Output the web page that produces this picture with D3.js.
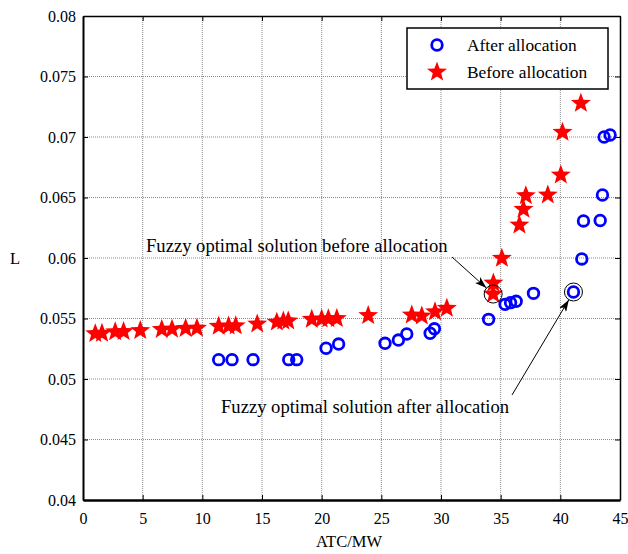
<!DOCTYPE html>
<html>
<head>
<meta charset="utf-8">
<script src="https://cdn.jsdelivr.net/npm/d3@7"></script>
<style>
  html, body { margin: 0; padding: 0; background: #fff; }
  svg { display: block; }
  text { font-family: "Liberation Serif", "Times New Roman", serif; fill: #000; }
</style>
</head>
<body>
<svg id="chart" width="628" height="554"></svg>
<script>
// ATC (MW) vs. loss index L, before and after allocation
const afterATC = [11.37, 12.49, 14.25, 17.24, 17.91, 20.37, 21.42, 25.31, 26.43, 27.13, 29.09, 29.45,
                  33.99, 35.37, 35.83, 36.30, 37.75, 41.10, 41.80, 41.94, 43.34, 43.53, 43.67, 44.17];
const afterL   = [0.0516, 0.0516, 0.0516, 0.0516, 0.0516, 0.05254, 0.05289, 0.05295, 0.05322, 0.05372, 0.05378, 0.05415,
                  0.05493, 0.05617, 0.05631, 0.05642, 0.05708, 0.05719, 0.05992, 0.06306, 0.0631, 0.06521, 0.0700, 0.07017];

const beforeATC = [1.03, 1.59, 2.70, 3.40, 4.80, 6.60, 7.46, 8.60, 9.55, 11.37, 12.20, 12.80, 14.60,
                   16.24, 16.79, 17.20, 19.17, 20.00, 20.56, 21.27, 23.90, 27.55, 28.39, 29.50, 30.49,
                   34.37, 34.39, 35.10, 36.57, 36.91, 37.11, 38.95, 40.04, 40.18, 41.72];
const beforeL   = [0.05375, 0.05378, 0.0539, 0.05392, 0.0540, 0.0541, 0.05412, 0.05418, 0.0542, 0.05435, 0.05438, 0.0544, 0.05455,
                   0.0547, 0.05479, 0.0548, 0.05493, 0.05495, 0.05497, 0.0550, 0.05525, 0.05529, 0.05521, 0.05556, 0.05584,
                   0.05702, 0.05793, 0.05998, 0.06273, 0.06402, 0.06515, 0.06521, 0.06686, 0.07039, 0.07278];

// Fuzzy optimal solutions
const optimalBefore = { atc: 34.37, L: 0.05702, label: "Fuzzy optimal solution before allocation" };
const optimalAfter  = { atc: 41.10, L: 0.05719, label: "Fuzzy optimal solution after allocation" };

const xTicks = [0, 5, 10, 15, 20, 25, 30, 35, 40, 45];
const yTicks = [0.04, 0.045, 0.05, 0.055, 0.06, 0.065, 0.07, 0.075, 0.08];
const xTickLabels = ["0", "5", "10", "15", "20", "25", "30", "35", "40", "45"];
const yTickLabels = ["0.04", "0.045", "0.05", "0.055", "0.06", "0.065", "0.07", "0.075", "0.08"];
const seriesNames = ["After allocation", "Before allocation"];
const xTitle = "ATC/MW";
const yTitle = "L";

const plot = { left: 83, right: 620, top: 16, bottom: 500 };
const svg = d3.select("#chart");

const x = d3.scaleLinear().domain([0, 45]).range([plot.left, plot.right]);
const y = d3.scaleLinear().domain([0.04, 0.08]).range([plot.bottom, plot.top]);

// grid
const grid = svg.append("g").attr("stroke", "#8a8a8a").attr("stroke-width", 1).attr("stroke-dasharray", "1,1");
xTicks.slice(1, -1).forEach(t => grid.append("line")
  .attr("x1", x(t)).attr("x2", x(t)).attr("y1", plot.top).attr("y2", plot.bottom));
yTicks.slice(1, -1).forEach(t => grid.append("line")
  .attr("x1", plot.left).attr("x2", plot.right).attr("y1", y(t)).attr("y2", y(t)));

// axes with inward ticks on all four sides
const tickLen = 5;
const fmtX = (d, i) => xTickLabels[i];
const fmtY = (d, i) => yTickLabels[i];
const axB = svg.append("g").attr("transform", `translate(0,${plot.bottom})`)
  .call(d3.axisBottom(x).tickValues(xTicks).tickFormat(fmtX).tickSizeInner(-tickLen).tickSizeOuter(0).tickPadding(10));
const axL = svg.append("g").attr("transform", `translate(${plot.left},0)`)
  .call(d3.axisLeft(y).tickValues(yTicks).tickFormat(fmtY).tickSizeInner(-tickLen).tickSizeOuter(0).tickPadding(8));
const axT = svg.append("g").attr("transform", `translate(0,${plot.top})`)
  .call(d3.axisTop(x).tickValues(xTicks).tickFormat("").tickSizeInner(-tickLen).tickSizeOuter(0));
const axR = svg.append("g").attr("transform", `translate(${plot.right},0)`)
  .call(d3.axisRight(y).tickValues(yTicks).tickFormat("").tickSizeInner(-tickLen).tickSizeOuter(0));
[axB, axL, axT, axR].forEach(a => {
  a.select(".domain").attr("stroke", "#000").attr("stroke-width", 1.5);
  a.selectAll(".tick line").attr("stroke", "#000").attr("stroke-width", 1);
  a.selectAll("text").attr("font-family", "Liberation Serif").attr("font-size", 16).attr("fill", "#000");
});
axB.select(".domain").attr("stroke-width", 2.5);
axL.select(".domain").attr("stroke-width", 2);
axB.selectAll(".tick text").attr("dy", "0.9em");
axL.selectAll(".tick text").attr("dx", "1px");

// axis titles
svg.append("text").attr("x", 349).attr("y", 547)
  .attr("text-anchor", "middle").attr("font-size", 16.5).text(xTitle);
svg.append("text").attr("x", 15).attr("y", 264)
  .attr("text-anchor", "middle").attr("font-size", 16.5).text(yTitle);

// five-pointed star path
function starPath(R) {
  const r = R * 0.42;
  const pts = [];
  for (let k = 0; k < 10; k++) {
    const a = -Math.PI / 2 + k * Math.PI / 5;
    const rad = k % 2 === 0 ? R : r;
    pts.push([rad * Math.cos(a), rad * Math.sin(a)]);
  }
  return "M" + pts.map(p => p.join(",")).join("L") + "Z";
}

const afterData = afterATC.map((v, i) => ({ atc: v, L: afterL[i] }));
const beforeData = beforeATC.map((v, i) => ({ atc: v, L: beforeL[i] }));

// after allocation: open blue circles
svg.append("g").selectAll("circle").data(afterData).join("circle")
  .attr("cx", d => x(d.atc)).attr("cy", d => y(d.L)).attr("r", 5.3)
  .attr("fill", "none").attr("stroke", "#0000ff").attr("stroke-width", 2.8);

// before allocation: filled red stars
svg.append("g").selectAll("path").data(beforeData).join("path")
  .attr("transform", d => `translate(${x(d.atc)},${y(d.L)})`)
  .attr("d", starPath(10.5)).attr("fill", "#ff0000");

// highlight rings around the fuzzy optimal solutions
const ringR = 9;
[optimalBefore, optimalAfter].forEach(p => svg.append("circle")
  .attr("cx", x(p.atc)).attr("cy", y(p.L)).attr("r", ringR)
  .attr("fill", "none").attr("stroke", "#000").attr("stroke-width", 1));

// annotation arrows
svg.append("defs").append("marker").attr("id", "arrowhead")
  .attr("viewBox", "0 0 12 8").attr("refX", 12).attr("refY", 4)
  .attr("markerWidth", 12).attr("markerHeight", 8).attr("markerUnits", "userSpaceOnUse")
  .attr("orient", "auto")
  .append("path").attr("d", "M0,0 L12,4 L0,8 L3,4 Z").attr("fill", "#000");

function annotate(p, start, textX, textY) {
  const px = x(p.atc), py = y(p.L);
  const dx = px - start[0], dy = py - start[1];
  const len = Math.hypot(dx, dy);
  const tip = [px - dx / len * ringR, py - dy / len * ringR];
  svg.append("line").attr("x1", start[0]).attr("y1", start[1]).attr("x2", tip[0]).attr("y2", tip[1])
    .attr("stroke", "#000").attr("stroke-width", 1).attr("marker-end", "url(#arrowhead)");
  svg.append("text").attr("x", textX).attr("y", textY).attr("font-size", 18.6).text(p.label);
}
annotate(optimalBefore, [452, 257], 146, 252);
annotate(optimalAfter, [512, 395], 221, 413);

// legend
const lg = svg.append("g");
lg.append("rect").attr("x", 407).attr("y", 28).attr("width", 201).attr("height", 61)
  .attr("fill", "#fff").attr("stroke", "#000").attr("stroke-width", 1.5);
lg.append("circle").attr("cx", 437).attr("cy", 45).attr("r", 5.3)
  .attr("fill", "none").attr("stroke", "#0000ff").attr("stroke-width", 2.8);
lg.append("path").attr("transform", "translate(437,72)").attr("d", starPath(10.5)).attr("fill", "#ff0000");
lg.append("text").attr("x", 467).attr("y", 51).attr("font-size", 17.4).text(seriesNames[0]);
lg.append("text").attr("x", 467).attr("y", 78).attr("font-size", 17.4).text(seriesNames[1]);
</script>
</body>
</html>
